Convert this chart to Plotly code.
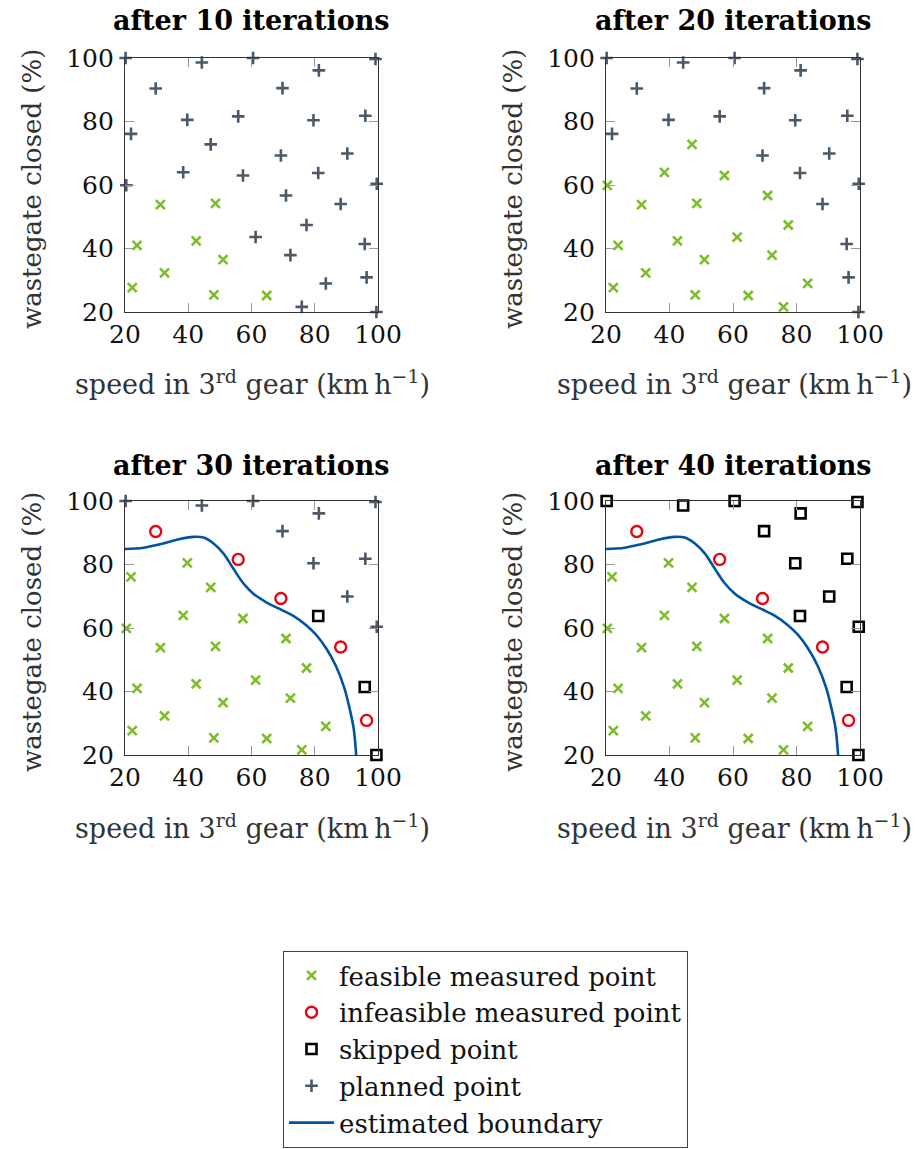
import plotly.graph_objects as go

# ---- design points (speed in km/h, wastegate closed in %) ----
# points measured within the first 10 iterations (all feasible)
batch1_x = [31.2, 48.6, 23.8, 42.5, 51.0, 32.5, 22.3, 48.1, 64.8, 30.1]
batch1_y = [53.8, 54.2, 41.0, 42.4, 36.5, 32.3, 27.7, 25.4, 25.2, 19.9]

# points measured in iterations 11-20 (all feasible)
batch2_x = [47.1, 38.4, 57.3, 20.4, 70.9, 77.4, 61.3, 72.3, 83.5, 75.9]
batch2_y = [72.8, 64.0, 63.0, 59.9, 56.7, 47.4, 43.6, 37.9, 29.0, 21.6]

# iterations 21-30: feasible, infeasible and skipped points
batch3_feas_x = [39.7, 21.9]
batch3_feas_y = [80.5, 76.1]
infeasible_x = [29.7, 55.8, 69.3, 88.2, 96.4]
infeasible_y = [90.4, 81.6, 69.3, 54.0, 30.9]
skipped3_x = [81.1, 95.8, 99.5]
skipped3_y = [63.8, 41.4, 20.0]

# remaining planned points, skipped in iterations 31-40
rest_x = [20.2, 44.3, 60.5, 99.2, 81.3, 69.8, 79.6, 96.0, 90.3, 99.6]
rest_y = [100.0, 98.6, 100.0, 99.7, 96.1, 90.5, 80.4, 81.8, 69.9, 60.4]

# estimated feasibility boundary
boundary_x = [20.0, 25.9, 31.1, 36.4, 41.6, 44.8, 47.9, 51.1, 54.2, 57.4, 60.5,
              64.7, 68.9, 73.1, 77.3, 80.5, 83.6, 86.8, 89.4, 91.0, 92.3, 93.1]
boundary_y = [84.9, 85.3, 86.4, 87.8, 88.7, 88.5, 86.7, 83.5, 78.8, 74.1, 70.9,
              68.1, 66.0, 63.9, 60.9, 57.8, 53.6, 47.8, 41.0, 34.7, 28.4, 20.0]

panel_titles = ["after 10 iterations", "after 20 iterations",
                "after 30 iterations", "after 40 iterations"]
ticks = [20, 40, 60, 80, 100]

GREEN = "#7cbd2a"
RED = "#e30613"
BLACK = "#000000"
SLATE = "#4c5967"
BLUE = "#00549f"
FONT = "DejaVu Serif"

W, H = 916, 1149
# plot-area boxes in pixels: (left, right, top, bottom)
boxes = [(125, 378, 58, 312), (606, 860, 58, 312),
         (125, 378, 501, 755), (606, 860, 501, 755)]
title_y = [20, 20, 465, 465]

# per-panel point states
planned_1 = (batch2_x + batch3_feas_x + infeasible_x + skipped3_x + rest_x,
             batch2_y + batch3_feas_y + infeasible_y + skipped3_y + rest_y)
planned_2 = (batch3_feas_x + infeasible_x + skipped3_x + rest_x,
             batch3_feas_y + infeasible_y + skipped3_y + rest_y)

panels = [
    dict(feas=(batch1_x, batch1_y), infeas=None, skip=None, planned=planned_1, bound=False),
    dict(feas=(batch1_x + batch2_x, batch1_y + batch2_y), infeas=None, skip=None,
         planned=planned_2, bound=False),
    dict(feas=(batch1_x + batch2_x + batch3_feas_x, batch1_y + batch2_y + batch3_feas_y),
         infeas=(infeasible_x, infeasible_y), skip=(skipped3_x, skipped3_y),
         planned=(rest_x, rest_y), bound=True),
    dict(feas=(batch1_x + batch2_x + batch3_feas_x, batch1_y + batch2_y + batch3_feas_y),
         infeas=(infeasible_x, infeasible_y),
         skip=(skipped3_x + rest_x, skipped3_y + rest_y), planned=None, bound=True),
]

fig = go.Figure()
shown = set()


def add(kind, xy, ax, name, rank, clip=False, **kw):
    show = kind not in shown
    shown.add(kind)
    fig.add_trace(go.Scatter(
        x=xy[0], y=xy[1], xaxis=ax[0], yaxis=ax[1], name=name,
        legendgroup=kind, showlegend=show, legendrank=rank,
        cliponaxis=clip, **kw))


for i, p in enumerate(panels):
    n = "" if i == 0 else str(i + 1)
    ax = ("x" + n, "y" + n)
    if p["bound"]:
        add("bound", (boundary_x, boundary_y), ax, "estimated boundary", 5, clip=True,
            mode="lines", line=dict(color=BLUE, width=2.6, shape="spline"))
    if p["planned"]:
        add("planned", p["planned"], ax, "planned point", 4, mode="markers",
            marker=dict(symbol="cross-thin", size=9, line=dict(color=SLATE, width=2.6)))
    add("feas", p["feas"], ax, "feasible measured point", 1, mode="markers",
        marker=dict(symbol="x-thin", size=9, line=dict(color=GREEN, width=2.6)))
    if p["infeas"]:
        add("infeas", p["infeas"], ax, "infeasible measured point", 2, mode="markers",
            marker=dict(symbol="circle-open", size=11, color=RED, line=dict(width=2.4)))
    if p["skip"]:
        add("skip", p["skip"], ax, "skipped point", 3, mode="markers",
            marker=dict(symbol="square-open", size=10, color=BLACK, line=dict(width=2.6)))

axis_common = dict(range=[20, 100], tickvals=ticks, ticks="inside", ticklen=9,
                   tickcolor="#9a9a9a", tickwidth=1, showline=True, linecolor="#333333",
                   linewidth=1.2, mirror="ticks", showgrid=False, zeroline=False,
                   automargin=False,
                   tickfont=dict(family=FONT, size=25, color="#111111"))

annotations = []
for i, (l, r, t, b) in enumerate(boxes):
    n = "" if i == 0 else str(i + 1)
    fig.layout["xaxis" + n] = dict(axis_common, domain=[l / W, r / W], anchor="y" + n)
    fig.layout["yaxis" + n] = dict(axis_common, domain=[1 - b / H, 1 - t / H], anchor="x" + n,
                                   ticklabelstandoff=5)
    cx = (l + r) / 2
    annotations.append(dict(text="<b>" + panel_titles[i] + "</b>", x=cx / W, y=1 - title_y[i] / H,
                            xref="paper", yref="paper", showarrow=False,
                            xanchor="center", yanchor="middle",
                            font=dict(family=FONT, size=27, color="#000000")))
    annotations.append(dict(text="speed in 3<sup>rd</sup> gear (km\u2009h<sup>\u22121</sup>)",
                            x=(cx + 1) / W, y=1 - (b + 71) / H, xref="paper", yref="paper",
                            showarrow=False, xanchor="center", yanchor="middle",
                            font=dict(family=FONT, size=27, color="#333333")))
    annotations.append(dict(text="wastegate closed (%)", textangle=-90,
                            x=(l - 93) / W, y=1 - ((t + b) / 2 + 4) / H, xref="paper", yref="paper",
                            showarrow=False, xanchor="center", yanchor="middle",
                            font=dict(family=FONT, size=26, color="#333333")))

fig.update_layout(
    width=W, height=H,
    margin=dict(l=0, r=0, t=0, b=0, pad=0, autoexpand=False),
    paper_bgcolor="white", plot_bgcolor="white",
    annotations=annotations,
    legend=dict(x=283 / W, y=1 - 951 / H, xanchor="left", yanchor="top",
                bordercolor="#444444", borderwidth=1, bgcolor="white",
                font=dict(family=FONT, size=26, color="#111111"),
                tracegroupgap=0, itemwidth=45, traceorder="normal"),
)

fig.write_html("out.html")
